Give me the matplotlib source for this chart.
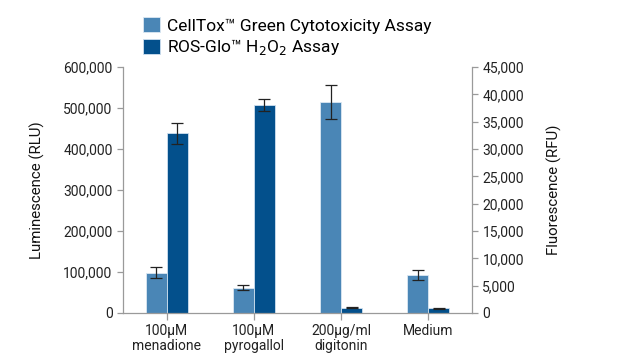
import numpy as np
import matplotlib.pyplot as plt
from matplotlib.ticker import FuncFormatter

plt.rcParams['font.family'] = ['Roboto', 'DejaVu Sans']

categories = ["100\u00b5M\nmenadione", "100\u00b5M\npyrogallol", "200\u00b5g/ml\ndigitonin", "Medium"]
celltox_rfu = [7400, 4600, 38600, 7000]
celltox_err = [1050, 480, 3050, 900]
rosglo_rlu = [438000, 508000, 13000, 11000]
rosglo_err = [25500, 15000, 1500, 1500]

LIGHT = "#4a86b6"
DARK = "#03508c"
GREY = "#9a9a9a"

fig = plt.figure(figsize=(6.19, 3.62), dpi=100)
ax = fig.add_axes([0.1987, 0.1354, 0.5638, 0.6795])
ax2 = ax.twinx()

x = np.arange(len(categories))
w = 0.24
ebk = dict(ecolor="#222222", elinewidth=0.9, capsize=4, capthick=0.9)
b1 = ax2.bar(x - w / 2, celltox_rfu, w, yerr=celltox_err, color=LIGHT,
             edgecolor="#dbe8f3", linewidth=0.6, error_kw=ebk, zorder=2)
b2 = ax.bar(x + w / 2, rosglo_rlu, w, yerr=rosglo_err, color=DARK,
            edgecolor="#cfe0ef", linewidth=0.6, error_kw=ebk, zorder=2)

ax.set_xlim(-0.5, 3.5)
ax.set_ylim(0, 600000)
ax2.set_ylim(0, 45000)
ax.set_yticks(np.arange(0, 600001, 100000))
ax2.set_yticks(np.arange(0, 45001, 5000))
fmt = FuncFormatter(lambda v, p: f"{int(v):,}")
ax.yaxis.set_major_formatter(fmt)
ax2.yaxis.set_major_formatter(fmt)
ax.set_xticks(x)
ax.set_xticklabels(categories, fontsize=9.7, color="#222222", linespacing=1.05)

for a in (ax, ax2):
    for s in a.spines.values():
        s.set_color(GREY)
        s.set_linewidth(0.9)
    a.spines["top"].set_visible(False)
    a.tick_params(colors=GREY, labelcolor="#222222", labelsize=10, length=4, width=0.9)
ax.spines["right"].set_visible(False)
ax2.spines["left"].set_visible(False)
ax2.spines["bottom"].set_visible(False)
ax.tick_params(axis="x", length=5, pad=3)

ax.set_ylabel("Luminescence (RLU)", fontsize=10.8, color="#111111", labelpad=13)
ax2.set_ylabel("Fluorescence (RFU)", fontsize=10.8, color="#111111", labelpad=16)

# ROS-Glo bars sit above CellTox axis
ax.set_zorder(ax2.get_zorder() + 1)
ax.patch.set_visible(False)

fig.legend([b1, b2], ["CellTox\u2122 Green Cytotoxicity Assay", "ROS-Glo\u2122 H$_2$O$_2$ Assay"],
           loc="upper left", bbox_to_anchor=(143 / 619, 1 - 17 / 362), frameon=False,
           fontsize=12.5, handlelength=0.98, handleheight=0.98, handletextpad=0.4,
           labelspacing=0.22, borderpad=0, borderaxespad=0)

fig.savefig("out.png", dpi=100)
